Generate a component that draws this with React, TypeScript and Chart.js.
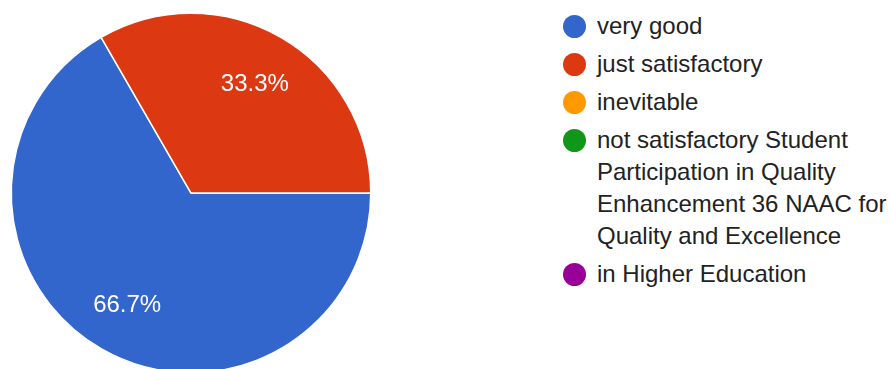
import React, { useEffect, useRef } from "react";
import { Chart, registerables } from "chart.js";

Chart.register(...registerables);

const categories: string[] = [
  "very good",
  "just satisfactory",
  "inevitable",
  "not satisfactory Student Participation in Quality Enhancement 36 NAAC for Quality and Excellence",
  "in Higher Education",
];
const responses: number[] = [2, 1, 0, 0, 0];
const sliceColors: string[] = ["#3366cc", "#dc3912", "#ff9900", "#109618", "#990099"];

const FONT = "'Liberation Sans', Arial, sans-serif";

const percentLabels = {
  id: "percentLabels",
  afterDatasetsDraw(chart: any) {
    const ctx = chart.ctx;
    const meta = chart.getDatasetMeta(0);
    const data = chart.data.datasets[0].data as number[];
    const total = data.reduce((a, b) => a + b, 0);
    ctx.save();
    ctx.fillStyle = "#ffffff";
    ctx.font = `24px ${FONT}`;
    ctx.textAlign = "center";
    ctx.textBaseline = "alphabetic";
    meta.data.forEach((arc: any, i: number) => {
      const v = data[i];
      if (!v) return;
      const { x, y, startAngle, endAngle, outerRadius } = arc.getProps(
        ["x", "y", "startAngle", "endAngle", "outerRadius"],
        true
      );
      const mid = (startAngle + endAngle) / 2;
      const r = outerRadius * 0.71;
      const px = x + Math.cos(mid) * r;
      const py = y + Math.sin(mid) * r;
      const pct = ((v / total) * 100).toFixed(1) + "%";
      ctx.fillText(pct, px, py + 8.5);
    });
    ctx.restore();
  },
};

export default function App() {
  const canvasRef = useRef<HTMLCanvasElement | null>(null);

  useEffect(() => {
    if (!canvasRef.current) return;
    const chart = new Chart(canvasRef.current, {
      type: "pie",
      data: {
        labels: categories,
        datasets: [
          {
            data: responses,
            backgroundColor: sliceColors,
            borderColor: "#ffffff",
            borderWidth: 1.5,
          },
        ],
      },
      options: {
        animation: false,
        responsive: false,
        devicePixelRatio: 1,
        rotation: 90,
        layout: { padding: 10.5 },
        plugins: {
          legend: { display: false },
          tooltip: { enabled: false },
        },
      },
      plugins: [percentLabels],
    });
    return () => chart.destroy();
  }, []);

  return (
    <div
      style={{
        position: "fixed",
        left: 0,
        top: 0,
        width: 891,
        height: 369,
        overflow: "hidden",
        background: "#ffffff",
      }}
    >
      <canvas
        ref={canvasRef}
        width={382}
        height={386}
        style={{ position: "absolute", left: 0, top: 0, width: 382, height: 386 }}
      />
      <div style={{ position: "absolute", left: 563, top: 10 }}>
        {categories.map((label, i) => (
          <div
            key={label}
            style={{ display: "flex", alignItems: "flex-start", marginBottom: 6 }}
          >
            <div
              style={{
                width: 23,
                height: 23,
                borderRadius: "50%",
                background: sliceColors[i],
                marginTop: 4.5,
                marginRight: 11,
                flex: "0 0 auto",
              }}
            />
            <div
              style={{
                width: 296,
                fontFamily: FONT,
                fontSize: 24,
                lineHeight: "32px",
                color: "#222222",
              }}
            >
              {label}
            </div>
          </div>
        ))}
      </div>
    </div>
  );
}
